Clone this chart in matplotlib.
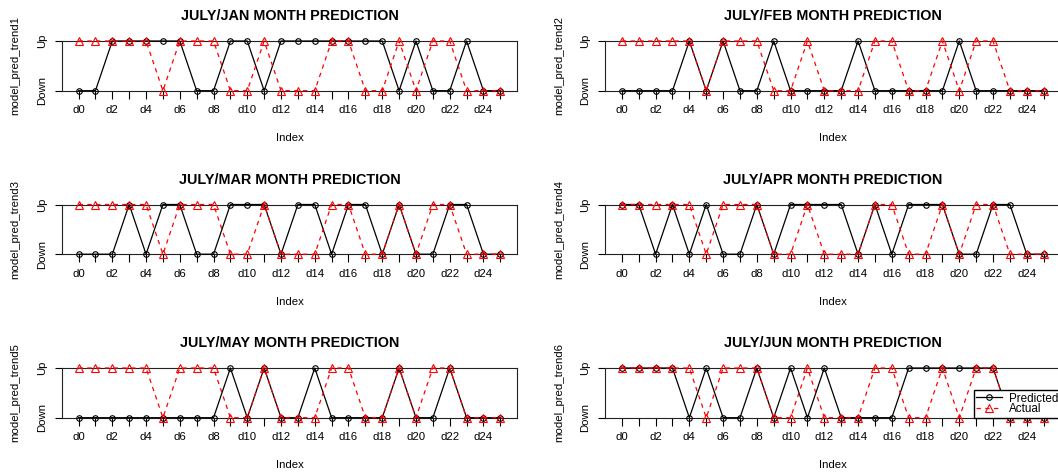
import numpy as np
import matplotlib
matplotlib.use("Agg")
import matplotlib.pyplot as plt

plt.rcParams["font.family"] = ["Liberation Sans", "DejaVu Sans"]

# 1 = Up, 0 = Down
days = ["d0", "d1", "d2", "d3", "d4", "d5", "d6", "d7", "d8", "d9", "d10", "d11", "d12",
        "d13", "d14", "d15", "d16", "d17", "d18", "d19", "d20", "d21", "d22", "d23", "d24", "d25"]
months = ["JAN", "FEB", "MAR", "APR", "MAY", "JUN"]
trend_labels = ["Down", "Up"]

actual = [1, 1, 1, 1, 1, 0, 1, 1, 1, 0, 0, 1, 0, 0, 0, 1, 1, 0, 0, 1, 0, 1, 1, 0, 0, 0]

pred_jan = [0, 0, 1, 1, 1, 1, 1, 0, 0, 1, 1, 0, 1, 1, 1, 1, 1, 1, 1, 0, 1, 0, 0, 1, 0, 0]
pred_feb = [0, 0, 0, 0, 1, 0, 1, 0, 0, 1, 0, 0, 0, 0, 1, 0, 0, 0, 0, 0, 1, 0, 0, 0, 0, 0]
pred_mar = [0, 0, 0, 1, 0, 1, 1, 0, 0, 1, 1, 1, 0, 1, 1, 0, 1, 1, 0, 1, 0, 0, 1, 1, 0, 0]
pred_apr = [1, 1, 0, 1, 0, 1, 0, 0, 1, 0, 1, 1, 1, 1, 0, 1, 0, 1, 1, 1, 0, 0, 1, 1, 0, 0]
pred_may = [0, 0, 0, 0, 0, 0, 0, 0, 0, 1, 0, 1, 0, 0, 1, 0, 0, 0, 0, 1, 0, 0, 1, 0, 0, 0]
pred_jun = [1, 1, 1, 1, 0, 1, 0, 0, 1, 0, 1, 0, 1, 0, 0, 0, 0, 1, 1, 1, 1, 1, 1, 0, 0, 0]

predictions = [pred_jan, pred_feb, pred_mar, pred_apr, pred_may, pred_jun]

W, H = 1058, 476
COL_LEFT = [61.7, 605.0]
COL_WIDTH = 455.5
ROW_TOP = [41.0, 204.5, 368.0]
ROW_HEIGHT = 49.7


def draw_panel(ax, pred, month, idx, legend=False):
    x = np.arange(len(days))
    ax.plot(x, pred, color="black", lw=0.9, marker="o", ms=4, mfc="none", mew=0.8,
            clip_on=False, zorder=3, label="Predicted")
    ax.plot(x, actual, color="red", lw=0.9, ls=(0, (3.5, 3.5)), marker="^", ms=5.2,
            mfc="none", mew=0.8, clip_on=False, zorder=4, label="Actual")
    ax.set_xlim(-1, 26)
    ax.set_ylim(0, 1)
    ax.set_xticks(x)
    ax.set_xticklabels([d if i % 2 == 0 else "" for i, d in enumerate(days)], fontsize=8.2)
    ax.set_yticks([0, 1])
    ax.set_yticklabels(trend_labels, rotation=90, va="center", fontsize=8.2)
    ax.tick_params(length=5.4, width=0.8, pad=5, color="black")
    for s in ax.spines.values():
        s.set_linewidth(0.8)
        s.set_color("#222222")
    ax.set_xlabel("Index", fontsize=8.2, labelpad=13)
    ax.set_ylabel(f"model_pred_trend{idx}", fontsize=8.2, labelpad=12)
    ax.set_title(f"JULY/{month} MONTH PREDICTION", fontsize=10.4, fontweight="bold", pad=15)
    if legend:
        leg = ax.legend(loc="lower right", fontsize=8.4, frameon=True, fancybox=False,
                        edgecolor="black", framealpha=1, borderaxespad=0, borderpad=0.2,
                        labelspacing=-0.1, handlelength=2.2, handletextpad=0.6, numpoints=1)
        leg.set_zorder(10)


fig = plt.figure(figsize=(W / 100, H / 100), dpi=100)
for i, (pred, month) in enumerate(zip(predictions, months)):
    row, col = divmod(i, 2)
    left = COL_LEFT[col] / W
    bottom = 1 - (ROW_TOP[row] + ROW_HEIGHT) / H
    ax = fig.add_axes([left, bottom, COL_WIDTH / W, ROW_HEIGHT / H])
    draw_panel(ax, pred, month, i + 1, legend=(i == 5))

fig.savefig("out.png", dpi=100)
